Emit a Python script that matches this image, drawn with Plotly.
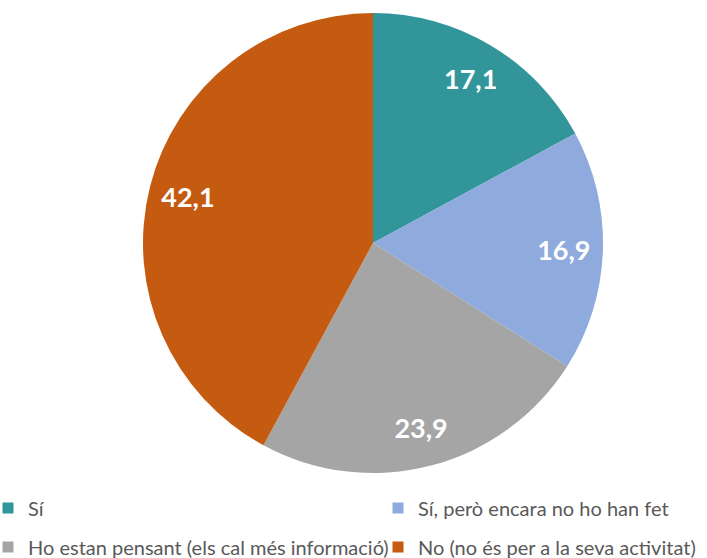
import plotly.graph_objects as go

labels = ["Sí", "Sí, però encara no ho han fet",
          "Ho estan pensant (els cal més informació)", "No (no és per a la seva activitat)"]
values = [17.1, 16.9, 23.9, 42.1]
colors = ["#31959A", "#8FAADC", "#A5A5A5", "#C55A11"]
legend_ids = ["legend", "legend2", "legend3", "legend4"]

W, H = 707, 558
FONT = "Lato"
dom = dict(x=[143 / W, 603 / W], y=[1 - 473 / H, 1 - 13 / H])

fig = go.Figure()
# coloured pie
fig.add_trace(go.Pie(
    labels=labels, values=values, sort=False, direction="clockwise", rotation=0,
    marker=dict(colors=colors, line=dict(width=0)),
    textinfo="none", showlegend=False, hoverinfo="label+value", domain=dom,
))
# transparent ring carrying the value labels (places them toward the rim)
fig.add_trace(go.Pie(
    labels=labels, values=values, sort=False, direction="clockwise", rotation=0,
    hole=0.66,
    marker=dict(colors=["rgba(0,0,0,0)"] * len(values), line=dict(width=0)),
    texttemplate="%{value:.1f}", textposition="inside", insidetextorientation="horizontal",
    textfont=dict(family=FONT, size=27, color="white", weight="bold"),
    showlegend=False, hoverinfo="skip", domain=dom,
))
for lab, col, lg in zip(labels, colors, legend_ids):
    fig.add_trace(go.Scatter(
        x=[None], y=[None], mode="markers", name=lab, legend=lg,
        marker=dict(symbol="square", size=11, color=col),
    ))

def leg(xpx, ypx):
    return dict(orientation="h", xanchor="left", yanchor="middle",
                x=xpx / W, y=1 - ypx / H,
                font=dict(family=FONT, size=20, color="#595959"),
                bgcolor="rgba(0,0,0,0)", borderwidth=0)

fig.update_layout(
    width=W, height=H, margin=dict(l=0, r=0, t=0, b=0, autoexpand=False),
    paper_bgcolor="white", plot_bgcolor="white",
    separators=",.",
    xaxis=dict(visible=False), yaxis=dict(visible=False),
    legend=leg(-12, 508), legend2=leg(378, 508),
    legend3=leg(-12, 547), legend4=leg(378, 547),
)
fig.write_html("out.html", config={"displayModeBar": False},
               post_script="document.body.style.margin='0';document.body.style.padding='0';")
